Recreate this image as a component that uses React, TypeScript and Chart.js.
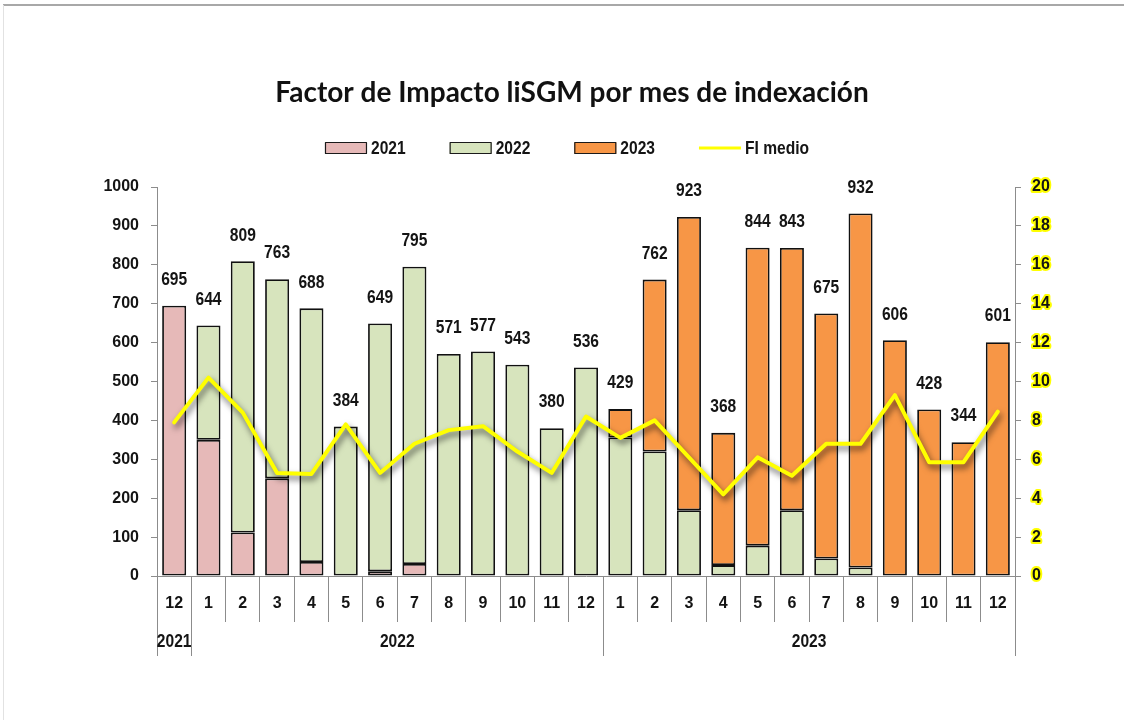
import React, { useEffect, useRef } from "react";
import { Chart, registerables } from "chart.js";

Chart.register(...registerables);

// ---------- DATA ----------
const monthLabels = [
  "12",
  "1", "2", "3", "4", "5", "6", "7", "8", "9", "10", "11", "12",
  "1", "2", "3", "4", "5", "6", "7", "8", "9", "10", "11", "12",
];
const yearLabels = ["2021", "2022", "2023"];
const yearFirstIndex = [0, 1, 13];
const yearLastIndex = [0, 12, 24];

const seriesNames = ["2021", "2022", "2023", "FI medio"];

const values2021 = [695, 350, 112, 251, 36, null, 12, 31, null, null, null, null, null,
  null, null, null, null, null, null, null, null, null, null, null, null];
const values2022 = [null, 294, 697, 512, 652, 384, 637, 764, 571, 577, 543, 380, 536,
  356, 320, 169, 28, 78, 169, 45, 22, null, null, null, null];
const values2023 = [null, null, null, null, null, null, null, null, null, null, null, null, null,
  73, 442, 754, 340, 766, 674, 630, 910, 606, 428, 344, 601];
const fiMedio = [7.9, 10.2, 8.4, 5.3, 5.25, 7.8, 5.3, 6.8, 7.5, 7.7, 6.4, 5.3, 8.2,
  7.1, 8.0, 6.1, 4.2, 6.1, 5.15, 6.8, 6.8, 9.3, 5.85, 5.85, 8.45];

const leftTicksMax = 1000;
const leftTicksStep = 100;
const rightTicksMax = 20;
const rightTicksStep = 2;

const titleText = "Factor de Impacto liSGM por mes de indexación";

// ---------- STYLE ----------
const NUM_FONT = "'Liberation Sans', Arial, sans-serif";
const NUM_SIZE = 16;
const COND_SIZE = 19;
const COND_SCALE = 0.82;
const TITLE_FONT = "Lato, 'Open Sans', 'Noto Sans', sans-serif";
const PINK = "#E6B9B8";
const GREEN = "#D7E4BD";
const ORANGE = "#F79646";
const YELLOW = "#FFFF00";
const AXIS = "#8c8c8c";
const TEXT = "#141414";

function condensedText(ctx: CanvasRenderingContext2D, text: string, x: number, y: number, align: CanvasTextAlign) {
  ctx.save();
  ctx.translate(x, y);
  ctx.scale(COND_SCALE, 1);
  ctx.font = `bold ${COND_SIZE}px ${NUM_FONT}`;
  ctx.textAlign = align;
  ctx.textBaseline = "middle";
  ctx.fillText(text, 0, 0);
  ctx.restore();
}

const decorPlugin = {
  id: "decor",
  beforeDraw(chart: any) {
    chart.ctx.lineJoin = "round";
    chart.ctx.miterLimit = 2;
  },
  beforeDatasetDraw(chart: any, args: any) {
    if (args.meta.type === "line") {
      const ctx = chart.ctx;
      ctx.save();
      ctx.shadowColor = "rgba(0,0,0,0.6)";
      ctx.shadowBlur = 6;
      ctx.shadowOffsetX = 2;
      ctx.shadowOffsetY = 4;
    }
  },
  afterDatasetDraw(chart: any, args: any) {
    if (args.meta.type === "line") chart.ctx.restore();
  },
  afterDatasetsDraw(chart: any) {
    const ctx = chart.ctx;
    ctx.save();
    ctx.fillStyle = TEXT;
    const n = monthLabels.length;
    for (let i = 0; i < n; i++) {
      let total = 0;
      let topY = Infinity;
      let x = 0;
      for (let d = 0; d < 3; d++) {
        const v = chart.data.datasets[d].data[i];
        if (v != null) {
          total += v;
          const el = chart.getDatasetMeta(d).data[i];
          if (el.y < topY) { topY = el.y; x = el.x; }
        }
      }
      condensedText(ctx, String(total), x, topY - 26, "center");
    }
    ctx.restore();
  },
  afterDraw(chart: any) {
    const ctx = chart.ctx;
    const xs = chart.scales.x;
    const area = chart.chartArea;
    const half = (xs.getPixelForTick(1) - xs.getPixelForTick(0)) / 2;

    ctx.save();
    ctx.strokeStyle = AXIS;
    ctx.lineWidth = 1;
    const bottomTick = area.bottom + 46;
    const longEnd = area.bottom + 80;
    const edges: number[] = [];
    yearFirstIndex.forEach((f) => edges.push(Math.round(xs.getPixelForTick(f) - half) + 0.5));
    edges.push(Math.round(xs.getPixelForTick(monthLabels.length - 1) + half) + 0.5);
    edges.forEach((ex) => {
      ctx.beginPath();
      ctx.moveTo(ex, bottomTick);
      ctx.lineTo(ex, longEnd);
      ctx.stroke();
    });
    ctx.fillStyle = TEXT;
    yearLabels.forEach((lab, k) => {
      const cx = (xs.getPixelForTick(yearFirstIndex[k]) + xs.getPixelForTick(yearLastIndex[k])) / 2;
      condensedText(ctx, lab, cx, area.bottom + 66, "center");
    });
    ctx.restore();

    // title
    ctx.save();
    ctx.font = `bold 28px ${TITLE_FONT}`;
    ctx.fillStyle = "#111";
    ctx.textAlign = "center";
    ctx.textBaseline = "middle";
    ctx.fillText(titleText, 572, 93);
    ctx.restore();

    // legend
    ctx.save();
    ctx.font = `bold ${COND_SIZE}px ${NUM_FONT}`;
    const boxW = 42, boxH = 12, gapText = 4, gapItem = 44;
    const widths = seriesNames.map((s) => boxW + gapText + ctx.measureText(s).width * COND_SCALE);
    const total = widths.reduce((a, b) => a + b, 0) + gapItem * (widths.length - 1);
    let x = 567 - total / 2;
    const ly = 148;
    const fills = [PINK, GREEN, ORANGE];
    seriesNames.forEach((s, k) => {
      if (k < 3) {
        ctx.fillStyle = fills[k];
        ctx.fillRect(x, ly - boxH / 2, boxW, boxH);
        ctx.strokeStyle = "#1a1a1a";
        ctx.lineWidth = 1.2;
        ctx.strokeRect(x + 0.5, ly - boxH / 2 + 0.5, boxW - 1, boxH - 1);
      } else {
        ctx.strokeStyle = YELLOW;
        ctx.lineWidth = 3;
        ctx.beginPath();
        ctx.moveTo(x, ly);
        ctx.lineTo(x + boxW, ly);
        ctx.stroke();
      }
      ctx.fillStyle = TEXT;
      condensedText(ctx, s, x + boxW + gapText, ly + 1, "left");
      x += widths[k] + gapItem;
    });
    ctx.restore();
  },
};

export default function App() {
  const canvasRef = useRef<HTMLCanvasElement | null>(null);

  useEffect(() => {
    const canvas = canvasRef.current;
    if (!canvas) return;
    const barCommon = {
      type: "bar" as const,
      borderColor: "#111",
      borderWidth: 1.8,
      borderSkipped: false,
      barPercentage: 0.7,
      categoryPercentage: 1,
      yAxisID: "y",
    };
    const tickFont = { family: NUM_FONT, size: NUM_SIZE, weight: "bold" };
    const chart = new Chart(canvas, {
      data: {
        labels: monthLabels,
        datasets: [
          { ...barCommon, label: seriesNames[0], data: values2021, backgroundColor: PINK },
          { ...barCommon, label: seriesNames[1], data: values2022, backgroundColor: GREEN },
          { ...barCommon, label: seriesNames[2], data: values2023, backgroundColor: ORANGE },
          {
            type: "line" as const,
            label: seriesNames[3],
            data: fiMedio,
            yAxisID: "y1",
            borderColor: YELLOW,
            borderWidth: 4,
            pointRadius: 0,
            tension: 0,
            fill: false,
            borderJoinStyle: "round",
            borderCapStyle: "round",
            order: -1,
          } as any,
        ],
      },
      options: {
        animation: false,
        responsive: false,
        devicePixelRatio: 1,
        layout: { padding: { top: 187, bottom: 44, left: 0, right: 0 } },
        plugins: {
          legend: { display: false },
          title: { display: false },
          tooltip: { enabled: false },
        },
        scales: {
          x: {
            stacked: true,
            offset: true,
            grid: { offset: true, drawOnChartArea: false, drawTicks: true, tickLength: 46, color: AXIS, lineWidth: 1 },
            border: { color: AXIS },
            ticks: { font: tickFont, color: TEXT, padding: -28, autoSkip: false, maxRotation: 0 },
            afterFit: (s: any) => { s.height = 100; },
          },
          y: {
            stacked: true,
            position: "left",
            min: 0,
            max: leftTicksMax,
            ticks: { stepSize: leftTicksStep, font: tickFont, color: TEXT, padding: 12, callback: (v: any) => String(v) },
            grid: { drawOnChartArea: false, drawTicks: true, tickLength: 6, color: AXIS },
            border: { color: AXIS },
            afterFit: (s: any) => { s.width = 157; },
          },
          y1: {
            position: "right",
            min: 0,
            max: rightTicksMax,
            ticks: {
              stepSize: rightTicksStep,
              font: tickFont,
              color: TEXT,
              padding: 11,
              textStrokeColor: YELLOW,
              textStrokeWidth: 4,
              callback: (v: any) => String(v),
            } as any,
            grid: { drawOnChartArea: false, drawTicks: true, tickLength: 6, color: AXIS },
            border: { color: AXIS },
            afterFit: (s: any) => { s.width = 109; },
          },
        },
      } as any,
      plugins: [decorPlugin],
    });
    return () => chart.destroy();
  }, []);

  return (
    <div style={{ position: "fixed", left: 0, top: 0, width: 1124, height: 720, background: "#fff" }}>
      <div style={{ position: "absolute", left: 3, top: 4, right: 0, height: 0, borderTop: "2px solid #a8a8a8" }} />
      <div style={{ position: "absolute", left: 3, top: 5, bottom: 0, width: 0, borderLeft: "1px solid #e2e2e2" }} />
      <canvas ref={canvasRef} width={1124} height={720} style={{ position: "absolute", left: 0, top: 0 }} />
    </div>
  );
}
